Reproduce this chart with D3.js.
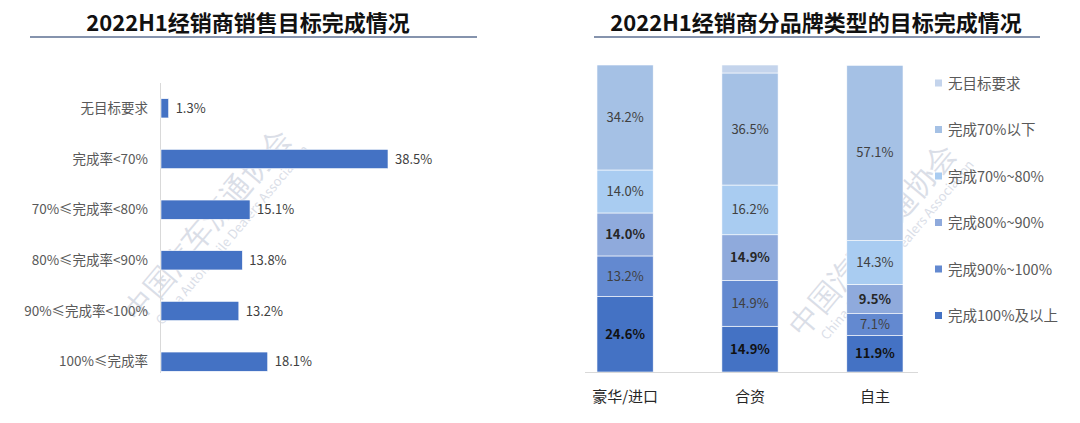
<!DOCTYPE html>
<html><head><meta charset="utf-8">
<script src="https://cdn.jsdelivr.net/npm/d3@7/dist/d3.min.js"></script>
<style>body{margin:0;background:#fff;}svg{display:block;font-family:"Noto Sans CJK SC","Noto Sans",sans-serif;}</style>
</head><body>
<svg id="c" width="1080" height="423"></svg>
<script>
const leftTitle = "2022H1经销商销售目标完成情况";
const rightTitle = "2022H1经销商分品牌类型的目标完成情况";
const leftCats = ["无目标要求","完成率<70%","70%≤完成率<80%","80%≤完成率<90%","90%≤完成率<100%","100%≤完成率"];
const leftVals = [1.3, 38.5, 15.1, 13.8, 13.2, 18.1];
const brandCats = ["豪华/进口","合资","自主"];
const seriesNames = ["完成100%及以上","完成90%~100%","完成80%~90%","完成70%~80%","完成70%以下","无目标要求"];
const s100 = [24.6, 14.9, 11.9];
const s90 = [13.2, 14.9, 7.1];
const s80 = [14.0, 14.9, 9.5];
const s70 = [14.0, 16.2, 14.3];
const sBelow70 = [34.2, 36.5, 57.1];
const sNone = [0, 2.6, 0];
const seriesColors = ["#4472C4","#6389D0","#8FAADC","#A9CCF1","#A5C1E5","#C4D4EC"];
const boldSeries = [true, false, true, false, false, false];
const labelColors = ["#111111","#404040","#262626","#404040","#404040","#404040"];

const svg = d3.select("#c");

// watermarks
function watermark(cx, cy){
  const g = svg.append("g").attr("transform",`translate(${cx},${cy}) rotate(-50)`).attr("opacity",0.22);
  g.append("text").attr("x",0).attr("y",-6).attr("text-anchor","middle").attr("font-size",30)
    .attr("font-family","serif").attr("fill","#5a6f96").text("中国汽车流通协会");
  g.append("text").attr("x",8).attr("y",14).attr("text-anchor","middle").attr("font-size",13)
    .attr("fill","#5a6f96").text("China Automobile Dealers Association");
}
watermark(220, 235);
watermark(885, 250);

// titles
function title(txt, cx, x1, x2){
  svg.append("text").attr("x",cx).attr("y",31).attr("text-anchor","middle")
    .attr("font-size",22).attr("font-weight","bold").attr("fill","#111").text(txt);
  svg.append("line").attr("x1",x1).attr("x2",x2).attr("y1",37).attr("y2",37)
    .attr("stroke","#8593AD").attr("stroke-width",2);
}
title(leftTitle, 248, 30, 477);
title(rightTitle, 816, 594, 1040);

// left bar chart
const lx = d3.scaleLinear().domain([0, 38.5]).range([161, 388]);
const ly = d3.scaleBand().domain(leftCats).range([83, 387]).paddingInner(0.62).paddingOuter(0.31);
const lg = svg.append("g");
lg.append("line").attr("x1",160.5).attr("x2",160.5).attr("y1",83).attr("y2",373).attr("stroke","#d9d9d9");
lg.selectAll("rect.b").data(leftVals).join("rect").attr("class","b")
  .attr("x", lx(0)).attr("y",(d,i)=>ly(leftCats[i])).attr("height", ly.bandwidth())
  .attr("width", d=>lx(d)-lx(0)).attr("fill","#4472C4").attr("stroke","#ffffff").attr("stroke-width",0.6);
lg.selectAll("text.v").data(leftVals).join("text").attr("class","v")
  .attr("x", d=>lx(d)+7).attr("y",(d,i)=>ly(leftCats[i])+ly.bandwidth()/2+4.5)
  .attr("font-size",13).attr("fill","#404040").text(d=>d.toFixed(1)+"%");
lg.selectAll("text.c").data(leftCats).join("text").attr("class","c")
  .attr("x",148).attr("y",d=>ly(d)+ly.bandwidth()/2+4.5).attr("text-anchor","end")
  .attr("font-size",13.5).attr("fill","#595959").text(d=>d);

// right stacked chart
const seriesVals = [s100, s90, s80, s70, sBelow70, sNone];
const table = brandCats.map((c,i)=>{ const o={cat:c}; seriesNames.forEach((n,k)=>o[n]=seriesVals[k][i]); return o; });
const stacked = d3.stack().keys(seriesNames)(table);
const rx = d3.scaleBand().domain(brandCats).range([572, 928]).paddingInner(0.55).paddingOuter(0.2);
const ry = d3.scaleLinear().domain([0,100]).range([372, 65]);
const rg = svg.append("g");
stacked.forEach((layer,k)=>{
  rg.selectAll(null).data(layer).join("rect")
    .attr("x",d=>rx(d.data.cat)).attr("width",rx.bandwidth())
    .attr("y",d=>ry(d[1])).attr("height",d=>Math.max(0,ry(d[0])-ry(d[1])))
    .attr("fill",seriesColors[k]).attr("stroke","#ffffff").attr("stroke-width",d=>d[1]-d[0]>0?0.6:0);
  if(k<5){
    rg.selectAll(null).data(layer).join("text")
      .attr("x",d=>rx(d.data.cat)+rx.bandwidth()/2).attr("y",d=>(ry(d[0])+ry(d[1]))/2+4.5)
      .attr("text-anchor","middle").attr("font-size",13)
      .attr("font-weight",boldSeries[k]?"bold":"normal").attr("fill",labelColors[k])
      .text(d=>(d[1]-d[0]).toFixed(1)+"%");
  }
});
rg.append("line").attr("x1",585).attr("x2",918).attr("y1",372.5).attr("y2",372.5).attr("stroke","#d9d9d9");
rg.selectAll("text.cat").data(brandCats).join("text").attr("class","cat")
  .attr("x",d=>rx(d)+rx.bandwidth()/2).attr("y",402).attr("text-anchor","middle")
  .attr("font-size",15).attr("fill","#262626").text(d=>d);

// legend (top to bottom: reverse of stack)
const legendOrder = seriesNames.map((n,i)=>({n, c:seriesColors[i]})).reverse();
const leg = svg.append("g");
legendOrder.forEach((d,i)=>{
  const y = 83 + i*46.5;
  leg.append("rect").attr("x",935).attr("y",y-3.5).attr("width",7).attr("height",7).attr("fill",d.c);
  leg.append("text").attr("x",948).attr("y",y+5.5).attr("font-size",14.5).attr("fill","#595959").text(d.n);
});
</script>
</body></html>
